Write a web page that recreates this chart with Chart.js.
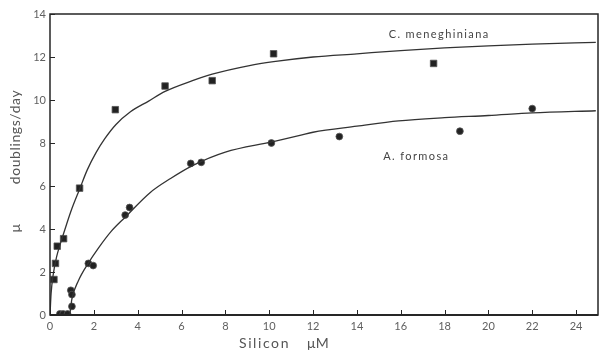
<!DOCTYPE html>
<html><head><meta charset="utf-8">
<script src="https://cdn.jsdelivr.net/npm/chart.js@4.4.0/dist/chart.umd.min.js"></script>
<style>html,body{margin:0;padding:0;background:#fff}#wrap{width:605px;height:355px}</style>
</head><body><div id="wrap"><canvas id="c" width="605" height="355"></canvas></div>
<script>
// ---- tick labels ----
const xTickValues = [0,2,4,6,8,10,12,14,16,18,20,22,24];
const yTickValues = [0,2,4,6,8,10,12,14];

// ---- C. meneghiniana (squares) ----
const menegX = [0.18,0.25,0.33,0.62,1.35,2.98,5.25,7.4,10.2,17.5];
const menegY = [1.65,2.4,3.2,3.55,5.9,9.55,10.65,10.9,12.15,11.7];
// fitted curve as drawn
const menegCurveX = [0,0.05,0.15,0.3,0.5,0.75,1.0,1.35,1.7,2.1,2.5,3.0,3.67,4.5,5.25,6.5,7.4,9.1,10.2,12,14,16,18,20,22,24.9];
const menegCurveY = [0,1.0,1.9,2.7,3.4,4.2,4.95,5.85,6.75,7.55,8.2,8.85,9.45,9.95,10.4,10.9,11.2,11.6,11.78,12.0,12.15,12.3,12.42,12.52,12.6,12.68];

// ---- A. formosa (circles) ----
const formosaX = [0.45,0.6,0.8,1.0,0.95,1.0,1.75,1.97,3.43,3.63,6.42,6.9,10.1,13.2,18.7,22.0];
const formosaY = [0.05,0.05,0.05,0.4,1.15,0.95,2.4,2.3,4.65,5.0,7.05,7.1,8.0,8.3,8.55,9.6];
const formosaCurveX = [0.9,1.0,1.3,1.74,2.2,2.8,3.43,4.55,5.5,6.5,8,10.1,11.4,12,14,15.9,18,20,22,24.9];
const formosaCurveY = [0,0.75,1.6,2.4,3.1,3.9,4.55,5.68,6.35,6.95,7.58,8.05,8.35,8.5,8.78,9.03,9.18,9.28,9.4,9.5];

const seriesNames = ["C. meneghiniana","A. formosa"];
const xTitleParts = ["Silicon","μM"];
const yTitleParts = ["μ","doublings/day"];

const pts = (xs, ys) => xs.map((v,i)=>({x:v, y:ys[i]}));
const ink = '#262626';
const textCol = '#606060';

const decor = {
  id:'decor',
  afterDraw(chart){
    const {ctx, chartArea:a, scales:{x, y}} = chart;
    ctx.save();
    ctx.strokeStyle = ink;
    ctx.lineWidth = 1.5;
    ctx.strokeRect(a.left, a.top, a.right-a.left, a.bottom-a.top);
    ctx.lineWidth = 2;
    ctx.beginPath(); ctx.moveTo(a.left, a.bottom); ctx.lineTo(a.right, a.bottom); ctx.stroke();
    ctx.lineWidth = 1;
    ctx.beginPath();
    x.ticks.forEach(t=>{const p=Math.round(x.getPixelForValue(t.value))+0.5; ctx.moveTo(p,a.bottom); ctx.lineTo(p,a.bottom-5);});
    y.ticks.forEach(t=>{const p=Math.round(y.getPixelForValue(t.value))+0.5; ctx.moveTo(a.left,p); ctx.lineTo(a.left+5,p);});
    ctx.stroke();

    // series labels
    ctx.fillStyle = '#444';
    ctx.font = '11px Lato, "Open Sans", sans-serif';
    ctx.letterSpacing = '1.4px';
    ctx.textAlign = 'left'; ctx.textBaseline = 'middle';
    ctx.fillText(seriesNames[0], x.getPixelForValue(15.45), y.getPixelForValue(13.07));
    ctx.fillText(seriesNames[1], x.getPixelForValue(15.2), y.getPixelForValue(7.37));

    // x title
    ctx.fillStyle = '#555';
    ctx.font = '14px Lato, "Open Sans", sans-serif';
    ctx.letterSpacing = '1.6px';
    ctx.fillText(xTitleParts[0], 239, 343);
    ctx.letterSpacing = '0.5px';
    ctx.fillText(xTitleParts[1], 307, 343);

    // y title
    ctx.save();
    ctx.translate(15, 0);
    ctx.rotate(-Math.PI/2);
    ctx.textAlign = 'center';
    ctx.letterSpacing = '0.6px';
    ctx.fillText(yTitleParts[1], -137, 0);
    ctx.fillText(yTitleParts[0], -228, 0);
    ctx.restore();
    ctx.restore();
  }
};

new Chart(document.getElementById('c'), {
  type: 'scatter',
  data: {
    datasets: [
      {label: seriesNames[0]+' fit', data: pts(menegCurveX, menegCurveY), showLine:true, pointRadius:0,
       borderColor:'#333', borderWidth:1.3, cubicInterpolationMode:'monotone', fill:false},
      {label: seriesNames[1]+' fit', data: pts(formosaCurveX, formosaCurveY), showLine:true, pointRadius:0,
       borderColor:'#333', borderWidth:1.3, cubicInterpolationMode:'monotone', fill:false},
      {label: seriesNames[0], data: pts(menegX, menegY), pointStyle:'rect', pointRadius:4.6,
       backgroundColor:'#222', borderColor:'#555', borderWidth:0.8},
      {label: seriesNames[1], data: pts(formosaX, formosaY), pointStyle:'circle', pointRadius:3.4,
       backgroundColor:'#222', borderColor:'#555', borderWidth:0.8}
    ]
  },
  options: {
    responsive:false, animation:false, devicePixelRatio:1,
    layout:{padding:{top:14, right:7, left:0, bottom:0}},
    plugins:{legend:{display:false}, tooltip:{enabled:false}},
    scales:{
      x:{type:'linear', min:0, max:25,
         afterFit: s=>{s.height = 40;},
         afterBuildTicks: s=>{s.ticks = xTickValues.map(v=>({value:v}));},
         grid:{display:false, drawTicks:false}, border:{display:false},
         ticks:{padding:5, color:textCol, font:{family:'Lato, "Open Sans", sans-serif', size:11}, maxRotation:0, autoSkip:false}},
      y:{type:'linear', min:0, max:14,
         afterFit: s=>{s.width = 50;},
         afterBuildTicks: s=>{s.ticks = yTickValues.map(v=>({value:v}));},
         grid:{display:false, drawTicks:false}, border:{display:false},
         ticks:{padding:4, color:textCol, font:{family:'Lato, "Open Sans", sans-serif', size:11}}}
    }
  },
  plugins:[decor]
});
</script></body></html>
